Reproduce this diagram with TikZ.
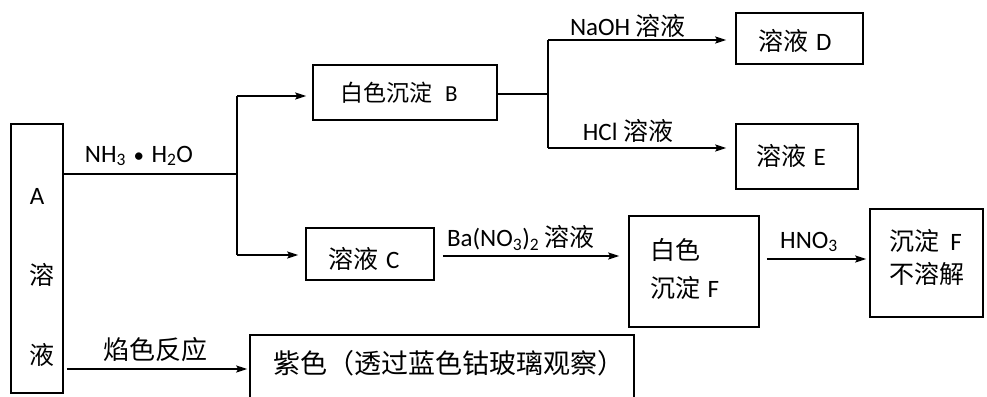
\documentclass[tikz,border=0pt]{standalone}
\usepackage{fontspec}
\setmainfont{Carlito}
\newfontfamily\cjk{Noto Sans CJK SC}
\usetikzlibrary{arrows.meta}
\newcommand\zh[1]{{\cjk #1}}
\newcommand\gap{\hspace{0.3em}}
\begin{document}
\begin{tikzpicture}[x=1pt,y=-1pt,
  box/.style={draw, line width=1.6pt, inner sep=0pt, minimum width=#1},
  lbl/.style={inner sep=0pt, font=\fontsize{25}{29}\selectfont},
  conn/.style={line width=1.8pt},
  arr/.style={conn, -{Stealth[length=11pt,width=7pt,inset=2pt]}}]
\useasboundingbox (0,0) rectangle (987,396);
\clip (0,0) rectangle (987,396);
% boxes
\node[box=52pt, minimum height=269pt] (A) at (37,258.5) {};
\node[box=184pt, minimum height=55pt] (B) at (405,92.5) {};
\node[box=127pt, minimum height=51pt] (D) at (799.5,38.5) {};
\node[box=122pt, minimum height=65pt] (E) at (797,156.5) {};
\node[box=128pt, minimum height=52pt] (C) at (370,254) {};
\node[box=130pt, minimum height=111pt] (WF) at (694,271.5) {};
\node[box=113pt, minimum height=108pt] (F2) at (926.5,263) {};
\node[box=384pt, minimum height=80pt] (P) at (442,375) {};
% box texts
\node[lbl] (tA1) at (37,196) {A};
\node[lbl] (tA2) at (42,275) {\zh{溶}};
\node[lbl] (tA3) at (42,355) {\zh{液}};
\node[lbl, font=\fontsize{23}{27}\selectfont] (tB) at (399,93) {\zh{白色沉淀}\hspace{0.55em}B};
\node[lbl] (tD) at (795,41) {\zh{溶液}\gap D};
\node[lbl] (tE) at (791,156) {\zh{溶液}\gap E};
\node[lbl] (tC) at (364,259) {\zh{溶液}\gap C};
\node[lbl, anchor=west] (tW1) at (650,250) {\zh{白色}};
\node[lbl, anchor=west] (tW2) at (650,288) {\zh{沉淀}\gap F};
\node[lbl, anchor=west] (tF1) at (889,241) {\zh{沉淀}\hspace{0.45em}F};
\node[lbl, anchor=west] (tF2) at (889,274) {\zh{不溶解}};
\node[lbl, font=\fontsize{27}{31}\selectfont] (tP) at (449,363) {\zh{紫色（透过蓝色钴玻璃观察）}};
% junctions
\coordinate (j1) at (237,174);
\coordinate (j1t) at (237,96);
\coordinate (j1b) at (237,255);
\coordinate (j2) at (548,94);
\coordinate (j2t) at (548,40);
\coordinate (j2b) at (548,148);
\coordinate (rC) at (0,256);
\coordinate (rF) at (0,259);
\coordinate (rP) at (0,369);
% connectors
\draw[conn] (A.east |- j1) -- (j1);
\draw[conn] (j1t) -- (j1b);
\draw[arr, shorten >=6pt] (j1t) -- (j1t -| B.west);
\draw[arr, shorten >=7pt] (j1b) -- (j1b -| C.west);
\draw[conn] (B.east |- j2) -- (j2);
\draw[conn] (j2t) -- (j2b);
\draw[arr, shorten >=9pt] (j2t) -- (j2t -| D.west);
\draw[arr, shorten >=9pt] (j2b) -- (j2b -| E.west);
\draw[arr, shorten <=8pt, shorten >=9pt] (C.east |- rC) -- (WF.west |- rC);
\draw[arr, shorten <=7pt, shorten >=3pt] (WF.east |- rF) -- (F2.west |- rF);
\draw[arr, shorten <=3pt, shorten >=2pt] (A.east |- rP) -- (P.west |- rP);
% connector labels
\node[lbl] (lN) at (139,156) {NH\textsubscript{3}\gap{\fontsize{21}{21}\selectfont •}\gap H\textsubscript{2}O};
\node[lbl] (lNa) at (628,26) {NaOH \zh{溶液}};
\node[lbl] (lH) at (628,131) {HCl \zh{溶液}};
\node[lbl] (lBa) at (521,238) {Ba(NO\textsubscript{3})\textsubscript{2} \zh{溶液}};
\node[lbl] (lHN) at (809,242) {HNO\textsubscript{3}};
\node[lbl, font=\fontsize{26}{30}\selectfont] (lY) at (155,350) {\zh{焰色反应}};
\end{tikzpicture}
\end{document}
